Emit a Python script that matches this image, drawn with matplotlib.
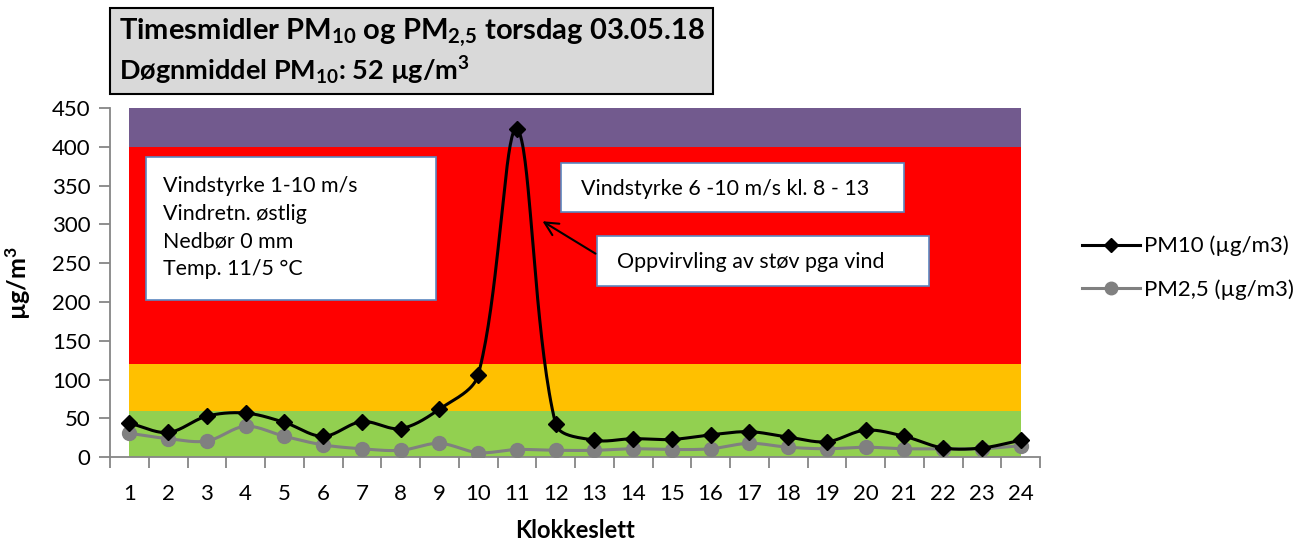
import numpy as np
import matplotlib
matplotlib.use("Agg")
import matplotlib.pyplot as plt
from matplotlib.patches import Rectangle
from matplotlib.lines import Line2D

plt.rcParams['font.family'] = ['Lato', 'DejaVu Sans']
plt.rcParams['mathtext.fontset'] = 'custom'
plt.rcParams['mathtext.rm'] = 'Lato'
plt.rcParams['mathtext.bf'] = 'Lato:weight=bold'
plt.rcParams['mathtext.it'] = 'Lato:italic'

# --- data ---
hours = np.arange(1, 25)
pm10 = [44, 32, 53, 57, 45, 27, 46, 37, 62, 106, 423, 43,
        22, 24, 23, 29, 33, 26, 20, 35, 27, 12, 12, 22]
pm25 = [31, 24, 21, 40, 27, 16, 11, 9, 18, 6, 10, 9,
        9, 11, 10, 11, 18, 13, 11, 13, 11, 11, 11, 15]
band_edges = [0, 60, 120, 400, 450]
band_colors = ['#92D050', '#FFC000', '#FF0000', '#725A8E']
yticks = np.arange(0, 451, 50)

# pixel scale of one unit on each axis (for the smoothing)
XS, YS = 38.75, 349.3 / 450


def smooth(x, y, n=40, s=1 / 3):
    # excel-like smoothed line: bezier segments, tangents weighted by segment length
    p = np.column_stack([np.asarray(x, float) * XS, np.asarray(y, float) * YS])
    m = len(p)
    tang = np.zeros_like(p)
    dprev = np.zeros(m)
    dnext = np.zeros(m)
    for i in range(m):
        a = p[max(i - 1, 0)]
        b = p[min(i + 1, m - 1)]
        tang[i] = b - a
        dprev[i] = np.hypot(*(p[i] - a))
        dnext[i] = np.hypot(*(b - p[i]))
    t = np.linspace(0, 1, n)[:, None]
    out = []
    for i in range(m - 1):
        p0, p3 = p[i], p[i + 1]
        tot0 = dprev[i] + dnext[i]
        tot1 = dprev[i + 1] + dnext[i + 1]
        p1 = p0 + tang[i] * s * (dnext[i] / tot0 if tot0 else 0)
        p2 = p3 - tang[i + 1] * s * (dprev[i + 1] / tot1 if tot1 else 0)
        seg = (1 - t) ** 3 * p0 + 3 * (1 - t) ** 2 * t * p1 + 3 * (1 - t) * t ** 2 * p2 + t ** 3 * p3
        out.append(seg if i == 0 else seg[1:])
    out = np.vstack(out)
    return out[:, 0] / XS, out[:, 1] / YS


W, H = 1301, 543
fig = plt.figure(figsize=(W / 100, H / 100), dpi=100)
ax = fig.add_axes([110 / W, (H - 457.3) / H, 930 / W, 349.3 / H])

# background bands
for lo, hi, c in zip(band_edges[:-1], band_edges[1:], band_colors):
    ax.fill_between([hours[0], hours[-1]], lo, hi, color=c, lw=0, zorder=0)

sx, sy = smooth(hours, pm25)
ax.plot(sx, sy, color='#808080', lw=2.2, zorder=2)
ax.plot(hours, pm25, 'o', color='#808080', ms=10, zorder=3)
sx, sy = smooth(hours, pm10)
ax.plot(sx, sy, color='black', lw=2.2, zorder=4)
ax.plot(hours, pm10, 'D', color='black', ms=8, zorder=5)

ax.set_xlim(0.5, 24.5)
ax.set_ylim(0, 450)
ax.set_yticks(yticks)
ax.set_xticks(hours)
ax.set_xticks(np.arange(0.5, 25, 1), minor=True)
ax.tick_params(axis='x', which='major', length=0, labelsize=16, pad=19)
ax.tick_params(axis='x', which='minor', length=8, color='#868686', width=1.3)
ax.tick_params(axis='y', length=8, color='#868686', width=1.3, labelsize=16, pad=6)
for s in ['top', 'right']:
    ax.spines[s].set_visible(False)
for s in ['left', 'bottom']:
    ax.spines[s].set_color('#868686')
    ax.spines[s].set_linewidth(1.3)

fig.text(575 / W, 1 - 530 / H, 'Klokkeslett', fontsize=17, fontweight='bold',
         ha='center', va='center')
fig.text(18 / W, 1 - 283 / H, r'µg/m$^\mathbf{3}$', rotation=90, fontsize=18,
         fontweight='bold', ha='center', va='center')

# text boxes
boxes = [(1.43, 202.6, 7.48, 184.4), (12.14, 315.6, 8.85, 63.0), (13.07, 220.5, 8.57, 64.3)]
for bx, by, bw, bh in boxes:
    ax.add_patch(Rectangle((bx, by), bw, bh, facecolor='white', edgecolor='#5B87C0',
                           lw=1.2, zorder=6))
info = ['Vindstyrke 1-10 m/s', 'Vindretn. østlig', 'Nedbør 0 mm', 'Temp. 11/5 °C']
for i, line in enumerate(info):
    ax.text(1.87, 349 - i * 35.5, line, fontsize=15.4, va='center', ha='left', zorder=7)
ax.text(12.65, 346, 'Vindstyrke 6 -10 m/s kl. 8 - 13', fontsize=15.4, va='center', zorder=7)
ax.text(13.58, 251, 'Oppvirvling av støv pga vind', fontsize=15.4, va='center', zorder=7)
ax.annotate('', xy=(11.6, 306), xytext=(13.09, 260.5),
            arrowprops=dict(arrowstyle='->', color='black', lw=1.5, mutation_scale=24),
            zorder=7)

# title box
fig.patches.append(Rectangle((110 / W, 1 - 94 / H), 603 / W, 86 / H, transform=fig.transFigure,
                             facecolor='#D9D9D9', edgecolor='black', lw=1.5))
fig.text(119 / W, 1 - 33 / H, r'Timesmidler PM$_{\mathbf{10}}$ og PM$_{\mathbf{2{,}5}}$ torsdag 03.05.18',
         fontsize=21, fontweight='bold', va='center')
fig.text(119 / W, 1 - 71 / H, r'Døgnmiddel PM$_{\mathbf{10}}$: 52 µg/m$^{\mathbf{3}}$',
         fontsize=19.5, fontweight='bold', va='center')

# legend
handles = [Line2D([], [], color='black', lw=2.2, marker='D', ms=7),
           Line2D([], [], color='#808080', lw=2.2, marker='o', ms=9)]
fig.legend(handles, ['PM10 (µg/m3)', 'PM2,5 (µg/m3)'], loc='center left',
           bbox_to_anchor=(1062 / W, 1 - 268 / H), frameon=False, fontsize=16,
           handlelength=2.6, handletextpad=0.2, labelspacing=1.05)

fig.savefig('out.png', dpi=100)
